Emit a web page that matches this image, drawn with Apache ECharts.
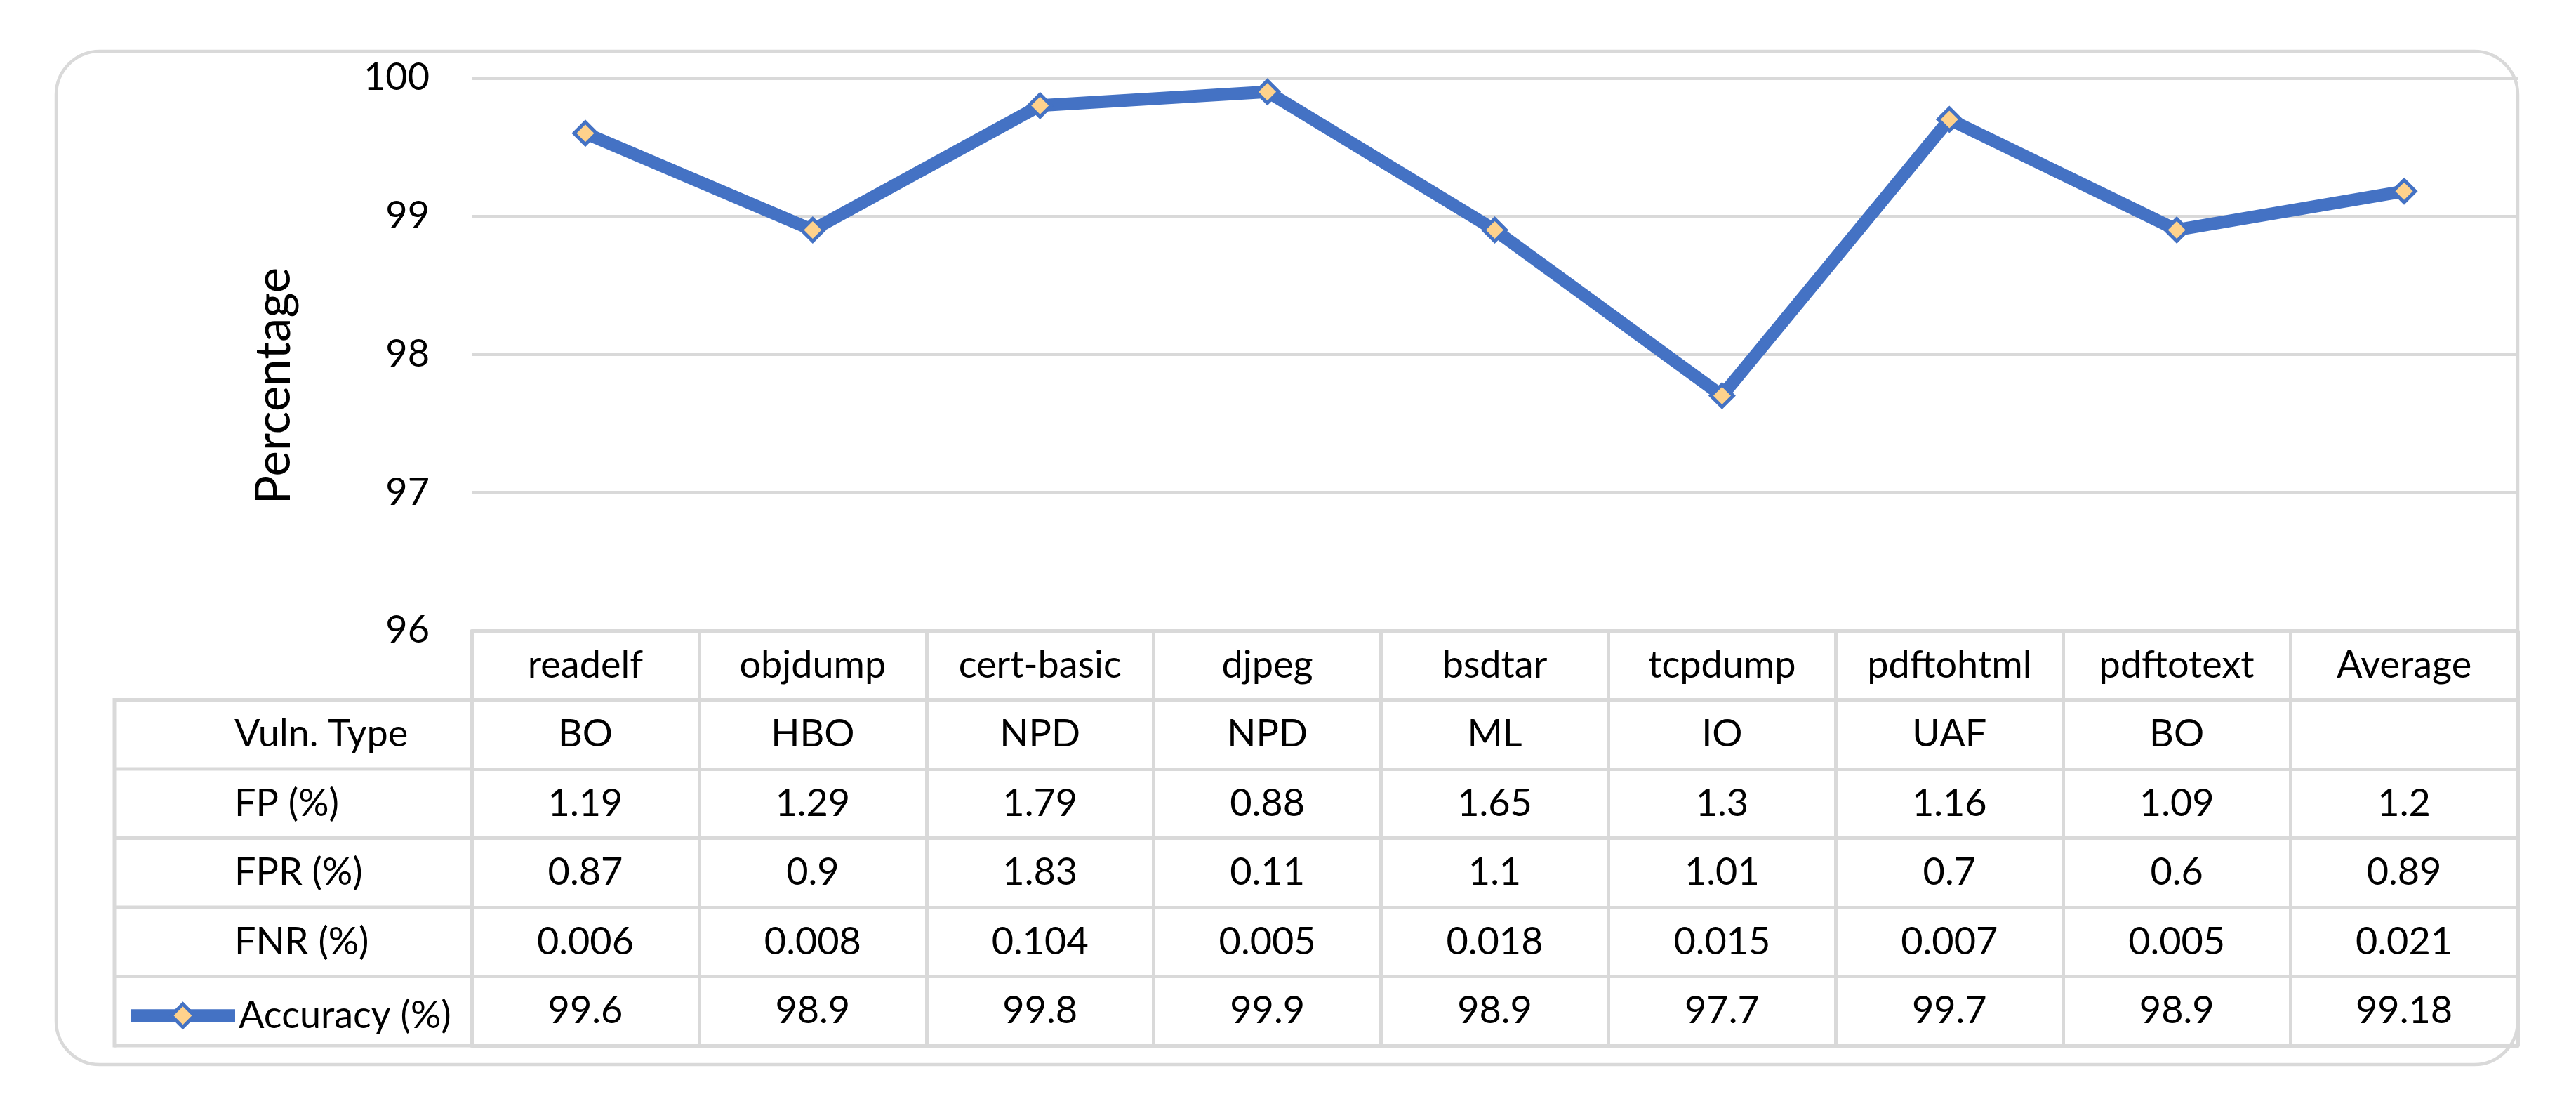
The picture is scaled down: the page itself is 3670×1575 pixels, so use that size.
<!DOCTYPE html>
<html><head><meta charset="utf-8">
<script src="https://cdn.jsdelivr.net/npm/echarts@6/dist/echarts.min.js"></script>
<style>html,body{margin:0;padding:0;background:#fff}#c{width:3670px;height:1575px}</style>
</head><body><div id="c"></div>
<script>
// ---- data ----
const categories = ['readelf','objdump','cert-basic','djpeg','bsdtar','tcpdump','pdftohtml','pdftotext','Average'];
const vulnType   = ['BO','HBO','NPD','NPD','ML','IO','UAF','BO',''];
const fpPct      = ['1.19','1.29','1.79','0.88','1.65','1.3','1.16','1.09','1.2'];
const fprPct     = ['0.87','0.9','1.83','0.11','1.1','1.01','0.7','0.6','0.89'];
const fnrPct     = ['0.006','0.008','0.104','0.005','0.018','0.015','0.007','0.005','0.021'];
const accuracy   = [99.6, 98.9, 99.8, 99.9, 98.9, 97.7, 99.7, 98.9, 99.18];
const rowLabels  = ['Vuln. Type','FP (%)','FPR (%)','FNR (%)'];
const seriesName = 'Accuracy (%)';
const yAxisName  = 'Percentage';
const yMin = 96, yMax = 100, yStep = 1;

// ---- style / layout ----
const FONT = 'Lato, "Noto Sans", sans-serif';
const FS = 54;
const LINE = '#d9d9d9';
const BLUE = '#4472C4';
const W = 3670, H = 1575;
const GRID_LEFT = 672, GRID_TOP = 111, GRID_BOTTOM_Y = 898, GRID_RIGHT_X = 3587;
const ROW_H = 98.5;
const TABLE_LEFT = 163;

const tableRows = [vulnType, fpPct, fprPct, fnrPct, accuracy.map(String)];

function tableAxis(values, k, showLabel, showTick) {
  return {
    type: 'category', data: categories, position: 'bottom', offset: k * ROW_H,
    boundaryGap: true,
    axisLine: { show: true, onZero: false, lineStyle: { color: LINE, width: 5 } },
    axisTick: { show: showTick, interval: 0, length: ROW_H, lineStyle: { color: LINE, width: 5 } },
    axisLabel: {
      show: showLabel, interval: 0, margin: ROW_H / 2, verticalAlign: 'middle',
      fontFamily: FONT, fontSize: FS, color: '#000',
      formatter: (v, i) => values ? values[i] : v
    },
    splitLine: { show: false }
  };
}

const xAxes = [tableAxis(categories, 0, true, true)];
tableRows.forEach((r, i) => xAxes.push(tableAxis(r, i + 1, true, true)));
xAxes.push(tableAxis(null, tableRows.length + 1, false, false));

const graphics = [];
// outer rounded frame
graphics.push({ type: 'rect', z: -1, silent: true,
  shape: { x: 80, y: 73, width: GRID_RIGHT_X - 80, height: 1516 - 73, r: 62 },
  style: { fill: null, stroke: LINE, lineWidth: 4.5 } });
// left part of table (row header column)
const bodyTop = GRID_BOTTOM_Y + ROW_H;
for (let k = 0; k <= tableRows.length; k++) {
  const y = bodyTop + k * ROW_H;
  graphics.push({ type: 'line', silent: true,
    shape: { x1: TABLE_LEFT, y1: y, x2: GRID_LEFT, y2: y },
    style: { stroke: LINE, lineWidth: 5 } });
}
graphics.push({ type: 'line', silent: true,
  shape: { x1: TABLE_LEFT, y1: bodyTop - 2.5, x2: TABLE_LEFT, y2: bodyTop + tableRows.length * ROW_H + 2.5 },
  style: { stroke: LINE, lineWidth: 5 } });
rowLabels.forEach((t, k) => {
  graphics.push({ type: 'text', silent: true,
    x: 334, y: bodyTop + (k + 0.5) * ROW_H,
    style: { text: t, fontFamily: FONT, fontSize: FS, fill: '#000', align: 'left', verticalAlign: 'middle' } });
});

const chart = echarts.init(document.getElementById('c'), null, { renderer: 'canvas', width: W, height: H });
chart.setOption({
  backgroundColor: '#fff',
  animation: false,
  grid: { left: GRID_LEFT, top: GRID_TOP, right: W - GRID_RIGHT_X, bottom: H - GRID_BOTTOM_Y, containLabel: false, outerBoundsMode: 'none' },
  legend: {
    data: [seriesName], left: 172, top: bodyTop + (tableRows.length - 0.5) * ROW_H - 20.5 - 5,
    itemWidth: 149, itemHeight: 41,
    textStyle: { fontFamily: FONT, fontSize: FS, color: '#000' },
    lineStyle: { width: 18 }, itemStyle: { borderWidth: 5 }
  },
  xAxis: xAxes,
  yAxis: {
    type: 'value', min: yMin, max: yMax, interval: yStep,
    name: yAxisName, nameLocation: 'middle', nameRotate: 90, nameGap: 247,
    nameTextStyle: { fontFamily: FONT, fontSize: 69, color: '#000', padding: [0, 90, 0, 0] },
    axisLine: { show: false }, axisTick: { show: false },
    axisLabel: { margin: 60, fontFamily: FONT, fontSize: FS, color: '#000' },
    splitLine: { show: true, lineStyle: { color: LINE, width: 5 } }
  },
  graphic: graphics,
  series: [{
    name: seriesName, type: 'line', data: accuracy, xAxisIndex: 0, yAxisIndex: 0,
    symbol: 'diamond', symbolSize: 32,
    lineStyle: { color: BLUE, width: 18 },
    itemStyle: { color: '#FFD28C', borderColor: BLUE, borderWidth: 5 },
    z: 5
  }]
});
</script></body></html>
